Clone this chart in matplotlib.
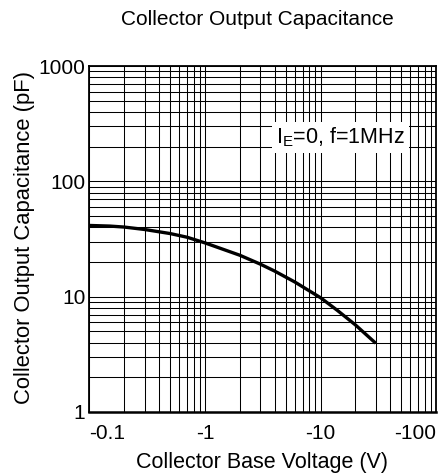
import matplotlib
matplotlib.use("Agg")
import matplotlib.pyplot as plt
from matplotlib.ticker import LogLocator, NullFormatter

plt.rcParams['font.family'] = ['Liberation Sans', 'DejaVu Sans']
plt.rcParams['mathtext.default'] = 'regular'

# Data (|V_CB| in volts, capacitance in pF)
voltage = [0.1, 0.15, 0.2, 0.3, 0.5, 0.7, 1.0, 2.0, 3.0, 4.0, 6.0, 10.0, 14.0, 20.0, 30.0]
capacitance = [41.5, 41.0, 40.2, 38.3, 35.3, 32.8, 29.3, 22.9, 19.2, 16.7, 13.4, 9.8, 7.6, 5.7, 3.95]

x_ticks = [0.1, 1, 10, 100]
x_labels = ["-0.1", "-1", "-10", "-100"]
y_ticks = [1, 10, 100, 1000]
y_labels = ["1", "10", "100", "1000"]

title = "Collector Output Capacitance"
xlabel = "Collector Base Voltage (V)"
ylabel = "Collector Output Capacitance (pF)"
note = r"I$_{E}$=0, f=1MHz"

fig = plt.figure(figsize=(4.45, 4.76), dpi=100)
ax = fig.add_axes([0.201, 0.1345, 0.779, 0.7265])
ax.set_xscale('log')
ax.set_yscale('log')
ax.set_xlim(0.1, 100)
ax.set_ylim(1, 1000)

ax.xaxis.set_minor_locator(LogLocator(base=10, subs=range(2, 10), numticks=20))
ax.yaxis.set_minor_locator(LogLocator(base=10, subs=range(2, 10), numticks=20))
ax.xaxis.set_minor_formatter(NullFormatter())
ax.yaxis.set_minor_formatter(NullFormatter())
ax.grid(True, which='both', color='black', linewidth=0.75)
ax.set_axisbelow(True)

ax.set_xticks(x_ticks)
ax.set_xticklabels(x_labels)
ax.set_yticks(y_ticks)
ax.set_yticklabels(y_labels)
ax.tick_params(which='both', length=0)
ax.tick_params(axis='x', pad=9, labelsize=15)
ax.tick_params(axis='y', pad=3, labelsize=15)
xl = ax.get_xticklabels()
xl[0].set_horizontalalignment('left')
xl[-1].set_horizontalalignment('right')

for s in ax.spines.values():
    s.set_linewidth(1.3)
    s.set_color('black')
ax.spines['bottom'].set_linewidth(1.8)

ax.plot(voltage, capacitance, color='black', linewidth=2.4,
        solid_capstyle='butt', solid_joinstyle='round')

ax.text(14.8, 240, note, fontsize=15.5, ha='center', va='center',
        bbox=dict(facecolor='white', edgecolor='none', pad=3))

fig.text(0.578, 0.958, title, fontsize=15, ha='center', va='center')
fig.text(0.588, 0.028, xlabel, fontsize=15.5, ha='center', va='center')
fig.text(0.056, 0.501, ylabel, fontsize=15.8, ha='center', va='center', rotation=90)

fig.savefig("out.png", dpi=100)
